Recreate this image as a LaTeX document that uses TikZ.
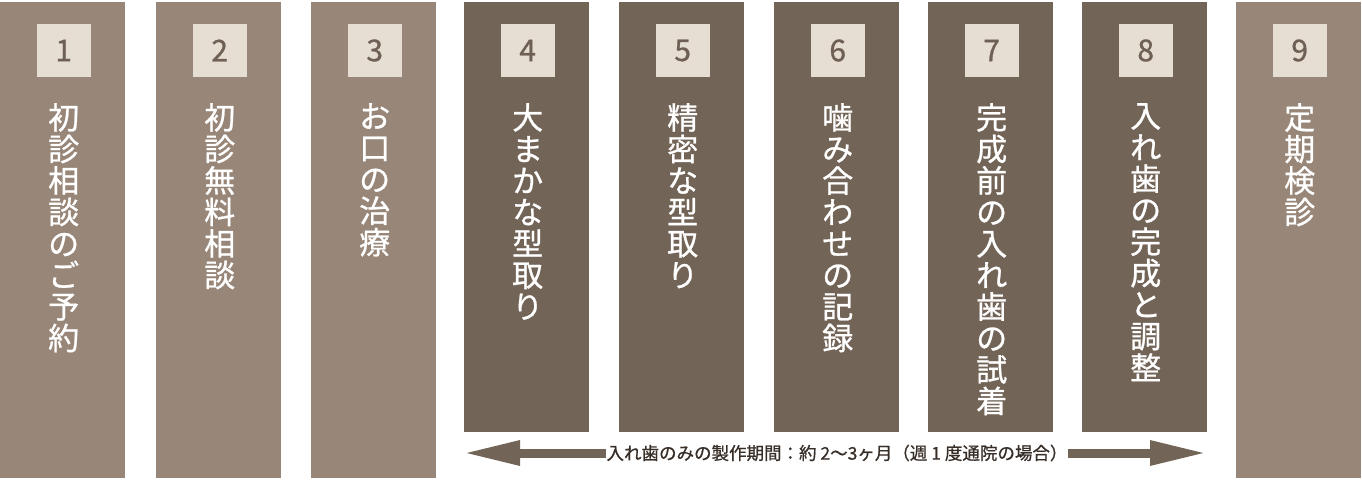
\documentclass[tikz,border=0pt]{standalone}
\usepackage{fontspec}
\setmainfont{Noto Sans CJK JP}
\newfontfamily\heavier[FakeBold=0.8]{Noto Sans CJK JP}
\usetikzlibrary{arrows.meta}
\definecolor{lightcol}{RGB}{152,135,121}
\definecolor{darkcol}{RGB}{115,100,88}
\definecolor{boxcol}{RGB}{230,221,211}
\definecolor{numcol}{RGB}{111,96,85}
\definecolor{labcol}{RGB}{55,46,40}
\tikzset{
  colrect/.style={rectangle, draw=none, minimum width=125pt, inner sep=0pt, anchor=north west},
  numbox/.style={rectangle, fill=boxcol, minimum width=54pt, minimum height=53pt, inner sep=0pt, text=numcol, font=\heavier\fontsize{30}{30}\selectfont},
  vtext/.style={anchor=north, inner sep=0pt, align=center, text=white, font=\heavier\fontsize{31}{31.5}\selectfont},
  period/.style={line width=9pt, draw=darkcol, -{Triangle[length=57pt,width=23pt]}},
  perlab/.style={inner sep=0pt, text=labcol, font=\heavier\fontsize{17.5}{17.5}\selectfont}
}
\newcommand\mkcol[6]{%
  \node[colrect, fill=#3, minimum height=#4pt] (c#1) at (#2,478) {};
  \node[numbox] (n#1) at ([xshift=1pt,yshift=-48.5pt]c#1.north) {#5};
  \node[vtext] (t#1) at ([xshift=1pt,yshift=-101pt]c#1.north) {#6};
}
\begin{document}
\begin{tikzpicture}[x=1pt,y=1pt]
\useasboundingbox (0,0) rectangle (1362,480);
\fill[white] (0,0) rectangle (1362,480);
\mkcol{1}{0}{lightcol}{476}{1}{初\\診\\相\\談\\の\\ご\\予\\約}
\mkcol{2}{156}{lightcol}{476}{2}{初\\診\\無\\料\\相\\談}
\mkcol{3}{311}{lightcol}{476}{3}{お\\口\\の\\治\\療}
\mkcol{4}{464}{darkcol}{430}{4}{大\\ま\\か\\な\\型\\取\\り}
\mkcol{5}{619}{darkcol}{430}{5}{精\\密\\な\\型\\取\\り}
\mkcol{6}{774}{darkcol}{430}{6}{噛\\み\\合\\わ\\せ\\の\\記\\録}
\mkcol{7}{928}{darkcol}{430}{7}{完\\成\\前\\の\\入\\れ\\歯\\の\\試\\着}
\mkcol{8}{1082}{darkcol}{430}{8}{入\\れ\\歯\\の\\完\\成\\と\\調\\整}
\mkcol{9}{1236}{lightcol}{476}{9}{定\\期\\検\\診}
\node[perlab] (lab) at (837,27) {入れ歯のみの製作期間：約 2〜3ヶ月（週 1 度通院の場合）};
\coordinate (ltip) at (463,27);
\coordinate (rtip) at (1207,27);
\draw[period] (lab.west) -- (ltip);
\draw[period] (lab.east) -- (rtip);
\end{tikzpicture}
\end{document}
